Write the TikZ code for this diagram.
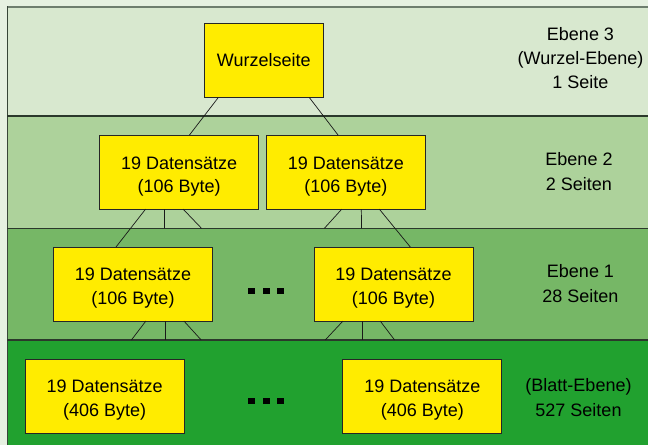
\documentclass[tikz,border=0pt]{standalone}
\usepackage{fontspec}
\setmainfont{Liberation Sans}
\usetikzlibrary{calc}

\definecolor{outerbg}{HTML}{E6F1E1}
\definecolor{bandthree}{HTML}{D8E8CF}
\definecolor{bandtwo}{HTML}{ADD29B}
\definecolor{bandone}{HTML}{76B766}
\definecolor{bandzero}{HTML}{21A12F}
\definecolor{pageyellow}{HTML}{FFEC00}
\definecolor{rulegray}{HTML}{6E7E6E}
\definecolor{ruledark}{HTML}{2B382B}

% two centred lines, set a little below the middle of the page box
\newcommand{\pagelines}[2]{\raisebox{-4pt}[\height][\depth]{\begin{tabular}{@{}c@{}}#1\\#2\end{tabular}}}

\tikzset{
  page/.style={draw=black!85, line width=0.8pt, fill=pageyellow,
    minimum width=159pt, minimum height=74pt, inner sep=0pt, outer sep=0pt,
    font=\fontsize{18}{23.5}\selectfont},
  rootpage/.style={page, minimum width=119pt},
  levellabel/.style={align=center, inner sep=0pt, font=\fontsize{18}{25}\selectfont},
  link/.style={draw=black!90, line width=0.7pt},
  bandrule/.style={draw=ruledark, line width=1.2pt},
  gapdot/.style={fill=black}
}

\begin{document}
\begin{tikzpicture}[x=1pt, y=-1pt]
  % canvas and level bands
  \fill[outerbg] (0,0) rectangle (648,445);
  \useasboundingbox (0,0) rectangle (648,445);
  \fill[bandthree] (7,7) rectangle (648,116);
  \fill[bandtwo]   (7,116) rectangle (648,228.3);
  \fill[bandone]   (7,228.3) rectangle (648,340);
  \fill[bandzero]  (7,340) rectangle (648,445);
  \draw[rulegray, line width=2pt] (7,6.5) -- (648,6.5);
  \draw[ruledark!80!rulegray, line width=1.6pt] (7.6,6) -- (7.6,445);
  \draw[bandrule] (7,116) -- (648,116);
  \draw[bandrule] (7,228.3) -- (648,228.3);
  \draw[bandrule] (7,340) -- (648,340);

  % pages of the tree
  \node[rootpage] (W)   at (263.8,60.5) {Wurzelseite};
  \node[page] (L2a) at (179.1,172.1) {\pagelines{19 Datensätze}{(106 Byte)}};
  \node[page] (L2b) at (345.8,172.1) {\pagelines{19 Datensätze}{(106 Byte)}};
  \node[page] (L1a) at (133,284) {\pagelines{19 Datensätze}{(106 Byte)}};
  \node[page] (L1b) at (393.5,284) {\pagelines{19 Datensätze}{(106 Byte)}};
  \node[page] (L0a) at (104.7,396) {\pagelines{19 Datensätze}{(406 Byte)}};
  \node[page] (L0b) at (422.3,396) {\pagelines{19 Datensätze}{(406 Byte)}};

  % level captions
  \node[levellabel, font=\fontsize{18}{24}\selectfont] (T3) at (580.5,58) {Ebene 3\\(Wurzel-Ebene)\\1 Seite};
  \node[levellabel] (T2) at (579,171.5) {Ebene 2\\2 Seiten};
  \node[levellabel] (T1) at (580.5,283.5) {Ebene 1\\28 Seiten};
  \node[levellabel] (T0) at (578.5,398) {(Blatt-Ebene)\\527 Seiten};

  % root to level 2
  \draw[link] ([xshift=14pt]W.south west) -- ([xshift=89.8pt]L2a.north west);
  \draw[link] ([xshift=-14pt]W.south east) -- ([xshift=71.8pt]L2b.north west);

  % level 2 to level 1 (only the outer links are drawn through)
  \coordinate (a2m) at (164.5,228.3);
  \coordinate (a2r) at (201.5,228.3);
  \coordinate (b2l) at (324.4,228.3);
  \coordinate (b2m) at (361.6,228.3);
  \draw[link] ([xshift=46pt]L2a.south west) -- ([xshift=62.5pt]L1a.north west);
  \draw[link] ([xshift=65pt]L2a.south west) -- (a2m);
  \draw[link] ([xshift=83.5pt]L2a.south west) -- (a2r);
  \draw[link] ([xshift=75.5pt]L2b.south west) -- (b2l);
  \draw[link] ([xshift=95pt]L2b.south west) -- (b2m);
  \draw[link] ([xshift=113pt]L2b.south west) -- ([xshift=96.3pt]L1b.north west);

  % level 1 towards the leaves
  \coordinate (a1l) at (131.4,340);
  \coordinate (a1m) at (165.3,340);
  \coordinate (a1r) at (201.2,340);
  \coordinate (b1l) at (325.2,340);
  \coordinate (b1m) at (362.4,340);
  \coordinate (b1r) at (394.6,340);
  \draw[link] ([xshift=92.4pt]L1a.south west) -- (a1l);
  \draw[link] ([xshift=111.8pt]L1a.south west) -- (a1m);
  \draw[link] ([xshift=130.4pt]L1a.south west) -- (a1r);
  \draw[link] ([xshift=29pt]L1b.south west) -- (b1l);
  \draw[link] ([xshift=48.4pt]L1b.south west) -- (b1m);
  \draw[link] ([xshift=66.2pt]L1b.south west) -- (b1r);

  % ellipsis marks between pages
  \foreach \x in {248,262.5,277} {
    \fill[gapdot] (\x,287.5) rectangle ++(7,6);
    \fill[gapdot] (\x,398) rectangle ++(7,6);
  }
\end{tikzpicture}
\end{document}
